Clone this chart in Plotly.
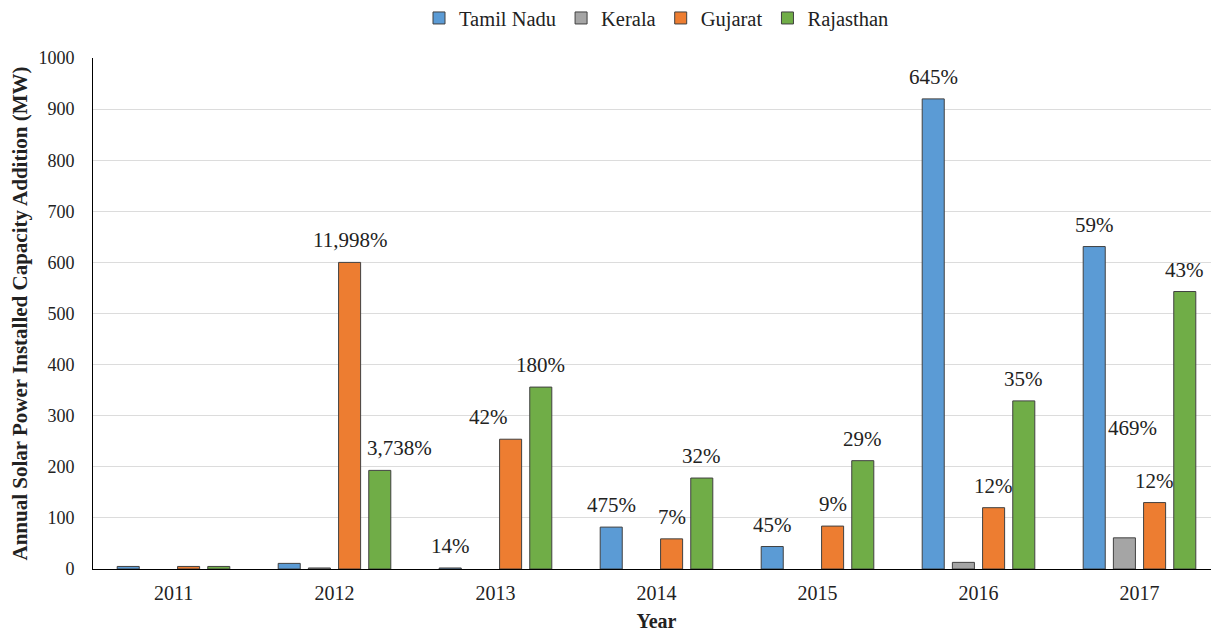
import plotly.graph_objects as go

years = ["2011", "2012", "2013", "2014", "2015", "2016", "2017"]

# None = no bar drawn for that year
tamil_nadu = [5, 11, 2, 82, 44, 920, 631]
kerala = [None, 2, None, None, None, 13, 61]
gujarat = [5, 600, 254, 59, 84, 120, 130]
rajasthan = [5, 193, 356, 178, 212, 329, 543]

tamil_nadu_growth = [None, None, "14%", "475%", "45%", "645%", "59%"]
kerala_growth = [None, None, None, None, None, None, "469%"]
gujarat_growth = [None, "11,998%", "42%", "7%", "9%", "12%", "12%"]
rajasthan_growth = [None, "3,738%", "180%", "32%", "29%", "35%", "43%"]

series = [
    ("Tamil Nadu", tamil_nadu, tamil_nadu_growth, "#5B9BD5"),
    ("Kerala", kerala, kerala_growth, "#A5A5A5"),
    ("Gujarat", gujarat, gujarat_growth, "#ED7D31"),
    ("Rajasthan", rajasthan, rajasthan_growth, "#70AD47"),
]

# hand-placed labels in the original (series index, year) -> (dx, dy) pixels
label_nudge = {(3, "2012"): (20, 8), (2, "2013"): (-22, 8), (1, "2017"): (8, 96)}

FONT = "Liberation Serif, Times New Roman, serif"

fig = go.Figure()
annotations = []
slot = 30
for i, (name, vals, growth, color) in enumerate(series):
    fig.add_trace(go.Bar(
        name=name, x=years, y=vals,
        marker=dict(color=color, line=dict(color="#404040", width=1)),
    ))
    for j, (yr, v, lab) in enumerate(zip(years, vals, growth)):
        if lab is None:
            continue
        dx, dy = label_nudge.get((i, yr), (0, 8))
        # category axis: annotation x is the category index
        annotations.append(dict(
            x=j, y=v or 0, text=lab, showarrow=False, yanchor="bottom",
            xshift=(i - 1.5) * slot + dx, yshift=dy,
            font=dict(family=FONT, size=21, color="#222"),
        ))

fig.update_layout(
    width=1219, height=635,
    margin=dict(l=85, r=7, t=50, b=74, autoexpand=False),
    paper_bgcolor="white", plot_bgcolor="white",
    barmode="group", bargap=0.25, bargroupgap=0.27,
    font=dict(family=FONT, size=20, color="#222"),
    annotations=annotations,
    legend=dict(
        orientation="h", x=0.5, xanchor="center", y=1.078, yanchor="middle",
        font=dict(family=FONT, size=20.5, color="#222"), itemwidth=30,
    ),
    xaxis=dict(
        type="category", range=[-0.5, 6.5],
        title=dict(text="<b>Year</b>", standoff=10, font=dict(family=FONT, size=20)),
        showline=True, linecolor="black", linewidth=1.3, ticks="",
        ticklabelstandoff=6, tickfont=dict(family=FONT, size=20),
    ),
    yaxis=dict(
        title=dict(text="<b>Annual Solar Power Installed Capacity Addition (MW)</b>",
                   standoff=10, font=dict(family=FONT, size=21)),
        range=[0, 1000], dtick=100, showline=True, linecolor="black", linewidth=1,
        gridcolor="#dcdcdc", gridwidth=1, zeroline=False, ticks="",
        ticklabelstandoff=14, tickfont=dict(family=FONT, size=18),
    ),
)

fig.write_html("out.html")
